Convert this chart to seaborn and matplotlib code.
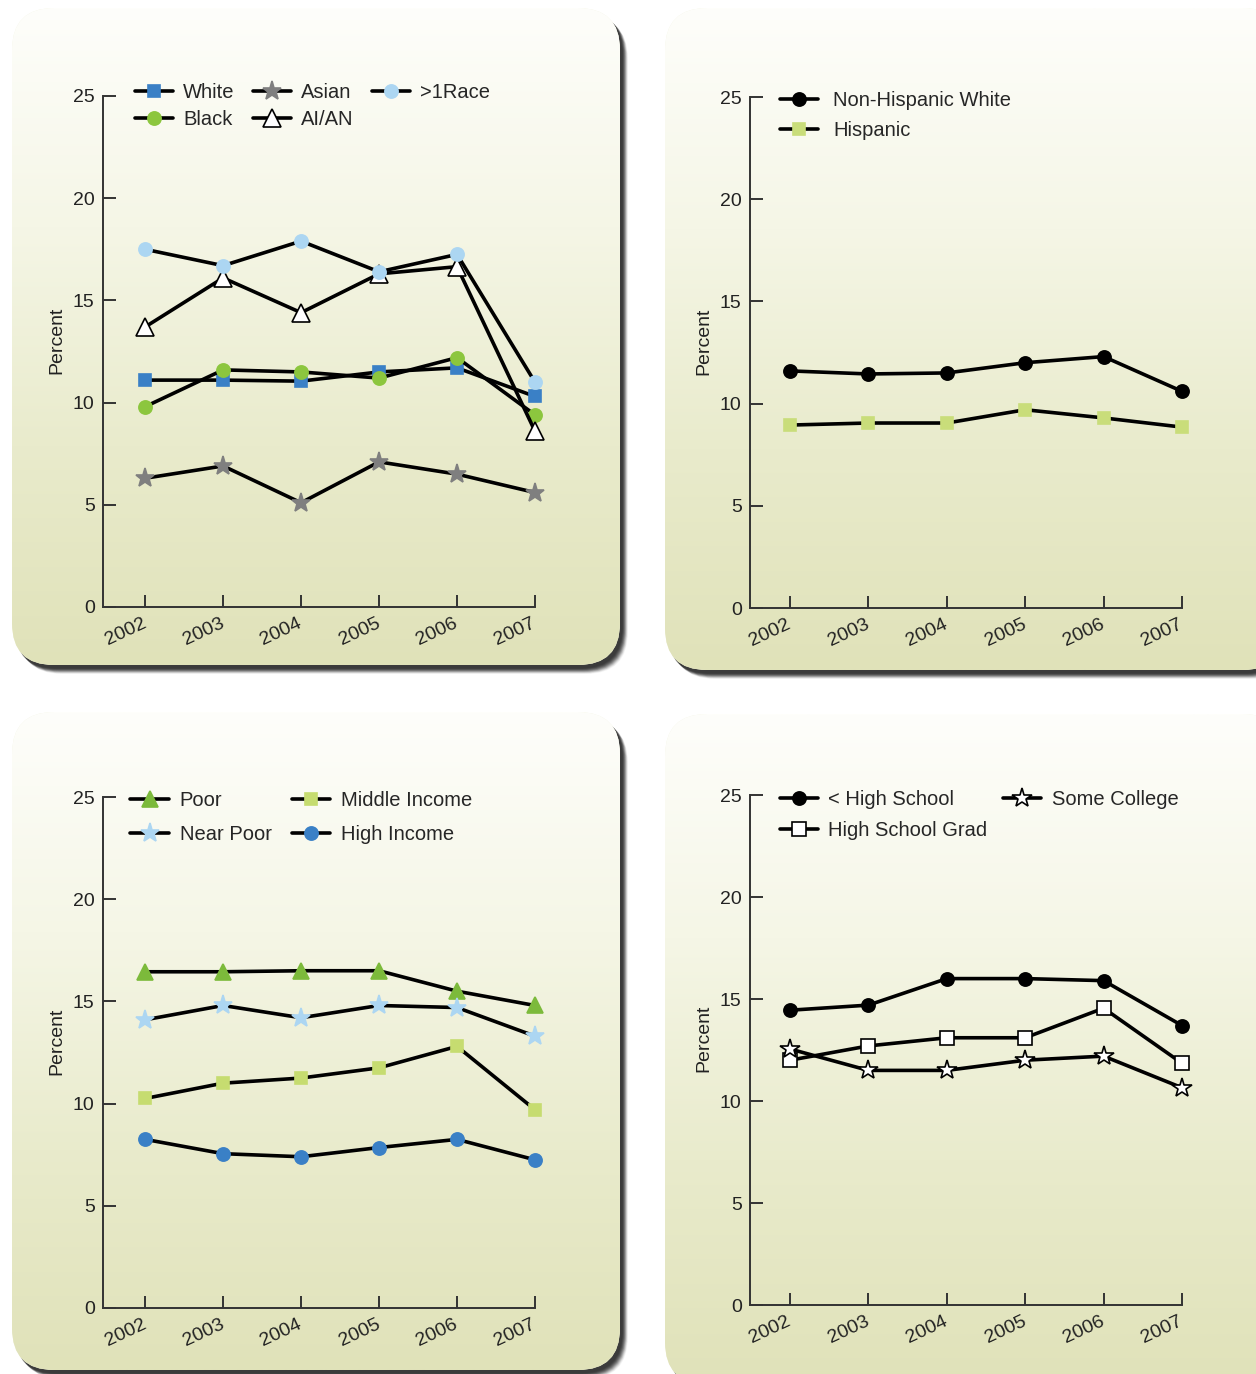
import numpy as np
import pandas as pd
import matplotlib
matplotlib.use("Agg")
import matplotlib.pyplot as plt
from matplotlib.patches import FancyBboxPatch
import seaborn as sns

sns.set_theme(style="ticks")
plt.rcParams["font.family"] = ["Liberation Sans", "DejaVu Sans"]

years = [2002, 2003, 2004, 2005, 2006, 2007]
year_labels = [str(y) for y in years]
y_ticks = [0, 5, 10, 15, 20, 25]

# panel 1: race
race_white = [11.1, 11.1, 11.05, 11.5, 11.7, 10.3]
race_black = [9.8, 11.6, 11.5, 11.2, 12.2, 9.4]
race_asian = [6.3, 6.9, 5.1, 7.1, 6.5, 5.6]
race_aian = [13.7, 16.1, 14.4, 16.3, 16.65, 8.6]
race_multi = [17.5, 16.7, 17.9, 16.4, 17.25, 11.0]

# panel 2: ethnicity
eth_nhw = [11.6, 11.45, 11.5, 12.0, 12.3, 10.6]
eth_hisp = [8.95, 9.05, 9.05, 9.7, 9.3, 8.85]

# panel 3: income
inc_poor = [16.45, 16.45, 16.5, 16.5, 15.5, 14.8]
inc_near = [14.1, 14.8, 14.2, 14.8, 14.7, 13.3]
inc_mid = [10.25, 11.0, 11.25, 11.75, 12.8, 9.7]
inc_high = [8.25, 7.55, 7.4, 7.85, 8.25, 7.25]

# panel 4: education
edu_lths = [14.45, 14.7, 16.0, 16.0, 15.9, 13.7]
edu_hsg = [12.0, 12.7, 13.1, 13.1, 14.55, 11.85]
edu_some = [12.55, 11.5, 11.5, 12.0, 12.2, 10.65]

W, H = 1256, 1374
fig = plt.figure(figsize=(W / 100, H / 100), dpi=100)
fig.patch.set_facecolor("white")

# background layer in pixel coordinates for the rounded panels
bg = fig.add_axes([0, 0, 1, 1], zorder=-5)
bg.set_xlim(0, W)
bg.set_ylim(H, 0)
bg.axis("off")

grad = np.linspace(0, 1, 256)[:, None]
cmap = matplotlib.colors.LinearSegmentedColormap.from_list(
    "panel", ["#fefefb", "#f5f6e6", "#e9ebcc", "#e0e2b9"])

panels_px = [(12, 8, 608, 657), (665, 8, 620, 662),
             (12, 712, 608, 658), (665, 714, 620, 670)]
for (x0, y0, w, h) in panels_px:
    # soft drop shadow, down and to the right
    for k, a in zip(range(12, 0, -1), np.linspace(0.04, 0.35, 12)):
        sh = FancyBboxPatch((x0 + 2 + k * 0.5, y0 + 3 + k * 0.5), w, h,
                            boxstyle="round,pad=0,rounding_size=42",
                            fc="#2e2e2e", ec="none", alpha=a, lw=0)
        bg.add_patch(sh)
    box = FancyBboxPatch((x0, y0), w, h, boxstyle="round,pad=0,rounding_size=42",
                         fc="#f3f4e2", ec="none", lw=0)
    bg.add_patch(box)
    im = bg.imshow(grad, cmap=cmap, aspect="auto",
                   extent=(x0, x0 + w, y0 + h, y0), zorder=2)
    im.set_clip_path(box)
bg.set_xlim(0, W)
bg.set_ylim(H, 0)

axes_px = [(103, 96, 607, 2001.46), (750, 97, 608, 2001.49),
           (103, 797, 1308, 2001.46), (750, 795, 1305, 2001.49)]


def make_ax(left, top, bottom, xmin):
    ax = fig.add_axes([left / W, 1 - bottom / H, (535 - 103) / W, (bottom - top) / H])
    ax.set_facecolor("none")
    ax.set_xlim(xmin, 2007)
    ax.set_ylim(0, 25)
    for s in ["top", "right"]:
        ax.spines[s].set_visible(False)
    for s in ["left", "bottom"]:
        ax.spines[s].set_color("#333333")
        ax.spines[s].set_linewidth(1.4)
    ax.set_xticks(years)
    ax.set_xticklabels(year_labels, rotation=25, ha="right", va="center",
                       rotation_mode="anchor", fontsize=14, color="#222222")
    ax.set_yticks(y_ticks)
    ax.set_yticklabels([str(t) for t in y_ticks], fontsize=14, color="#222222")
    ax.tick_params(axis="both", direction="in", length=9, width=1.4,
                   color="#333333")
    ax.tick_params(axis="x", pad=11)
    ax.tick_params(axis="y", pad=6)
    return ax


def label_axes(ax):
    ax.set_xlabel("")
    ax.set_ylabel("Percent", fontsize=14, color="#222222")
    ax.yaxis.set_label_coords(-0.088, 0.522)


def draw(ax, values, label, marker, fc, ec, ms):
    df = pd.DataFrame({"Year": years, "Percent": values})
    sns.lineplot(data=df, x="Year", y="Percent", ax=ax, color="black",
                 linewidth=2.6, marker=marker, markersize=ms,
                 markerfacecolor=fc, markeredgecolor=ec, markeredgewidth=1.2,
                 label=label, clip_on=False)


legend_kw = dict(loc="upper left", frameon=False, fontsize=14.5,
                 handlelength=1.9, borderaxespad=0)

axs = [make_ax(*p) for p in axes_px]

ax = axs[0]
draw(ax, race_white, "White", "s", "#3a80c6", "#3a80c6", 9)
draw(ax, race_black, "Black", "o", "#8cc63e", "#8cc63e", 9.5)
draw(ax, race_asian, "Asian", "*", "#7f7f7f", "#7f7f7f", 14)
draw(ax, race_aian, "AI/AN", "^", "white", "black", 13)
draw(ax, race_multi, ">1Race", "o", "#acd6f2", "#acd6f2", 9.5)
label_axes(ax)
ax.legend(ncol=3, bbox_to_anchor=(0.055, 1.042), handletextpad=0.5,
          columnspacing=0.9, labelspacing=0.42, **legend_kw)

ax = axs[1]
draw(ax, eth_nhw, "Non-Hispanic White", "o", "black", "black", 9.5)
draw(ax, eth_hisp, "Hispanic", "s", "#c9dd7a", "#c9dd7a", 9)
label_axes(ax)
ax.legend(ncol=1, bbox_to_anchor=(0.05, 1.028), handletextpad=0.75,
          labelspacing=0.58, **legend_kw)

ax = axs[2]
draw(ax, inc_poor, "Poor", "^", "#7cba3b", "#7cba3b", 11)
draw(ax, inc_near, "Near Poor", "*", "#acd6f2", "#acd6f2", 14)
draw(ax, inc_mid, "Middle Income", "s", "#c6dc70", "#c6dc70", 9)
draw(ax, inc_high, "High Income", "o", "#3a80c6", "#3a80c6", 9.5)
label_axes(ax)
ax.legend(ncol=2, bbox_to_anchor=(0.045, 1.027), handletextpad=0.55,
          columnspacing=1.0, labelspacing=0.72, **legend_kw)

ax = axs[3]
draw(ax, edu_lths, "< High School", "o", "black", "black", 9.5)
draw(ax, edu_hsg, "High School Grad", "s", "white", "black", 10)
draw(ax, edu_some, "Some College", "*", "white", "black", 15)
label_axes(ax)
ax.legend(ncol=2, bbox_to_anchor=(0.05, 1.026), handletextpad=0.5,
          columnspacing=0.8, labelspacing=0.62, **legend_kw)

fig.savefig("out.png", dpi=100)
